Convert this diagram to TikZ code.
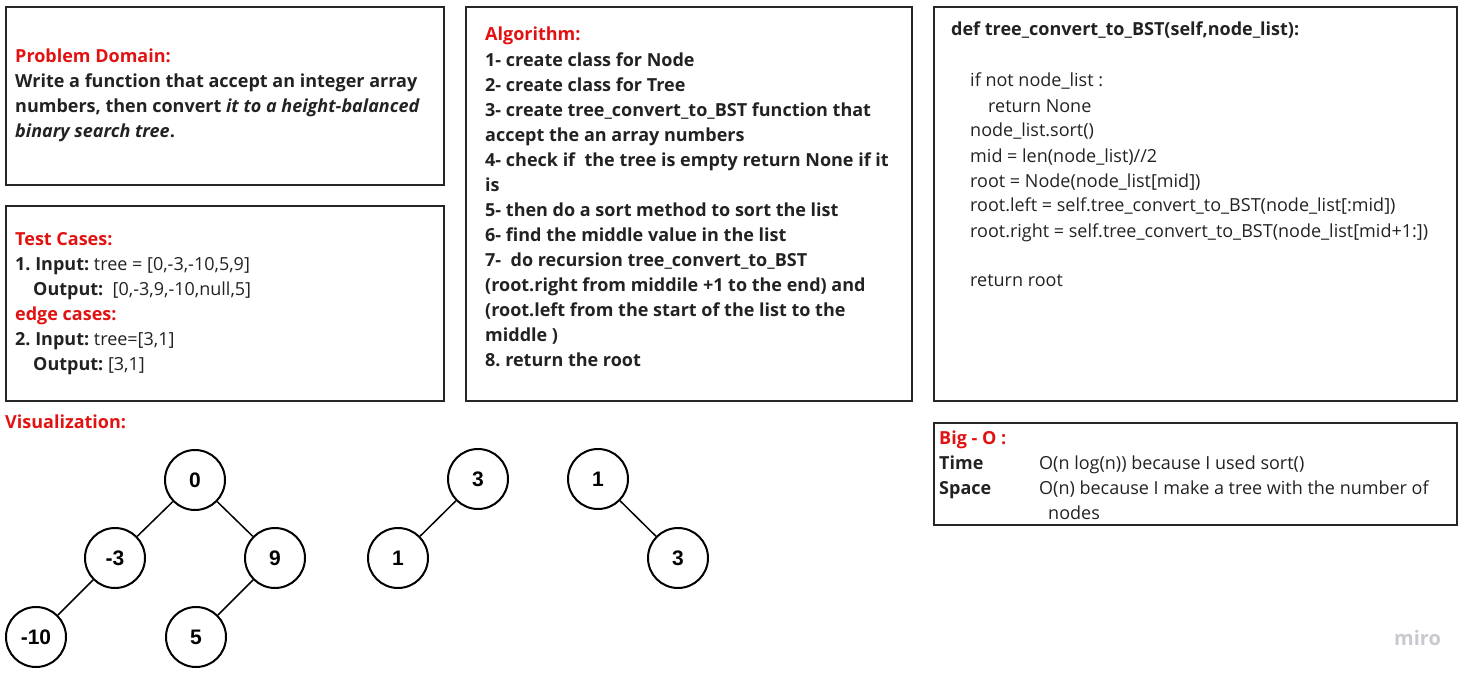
\documentclass[tikz,border=0pt]{standalone}
\usepackage{fontspec}
\setmainfont{Open Sans}
\newfontfamily\treefont{Liberation Sans}
\usepackage{xcolor}
\usetikzlibrary{positioning}
\definecolor{headred}{RGB}{226,18,18}
\definecolor{boxline}{RGB}{38,38,38}
\definecolor{bodytext}{RGB}{34,34,34}
\definecolor{logogrey}{RGB}{200,200,208}
\begin{document}
\begin{tikzpicture}[x=1pt,y=-1pt,
    box/.style={draw=boxline,line width=2pt},
    txt/.style={anchor=base west,inner sep=0pt,align=left,text=bodytext,
      font=\frenchspacing\fontsize{18}{25}\selectfont},
    boldtxt/.style={txt,font=\frenchspacing\bfseries\fontsize{18}{25}\selectfont},
    head/.style={txt,text=headred,font=\bfseries\fontsize{18}{25}\selectfont},
    treenode/.style={circle,draw=black,line width=2pt,minimum size=60pt,inner sep=0pt,
      font=\treefont\bfseries\fontsize{21}{21}\selectfont},
    treeedge/.style={line width=1.5pt}]
  \useasboundingbox (0,0) rectangle (1470,679);
  % boxes
  \draw [box] (6,7) rectangle (444,185);
  \draw [box] (6,206) rectangle (444,401);
  \draw [box] (466,7) rectangle (912,401);
  \draw [box] (934,7) rectangle (1457,401);
  \draw [box] (934,423) rectangle (1457,525);
  % problem domain (multi-line nodes sit on their last baseline)
  \node [head] (pdhead) at (15,63) {Problem Domain:};
  \node [boldtxt] (pdtext) at (15,138)
    {Write a function that accept an integer array\\
     numbers, then convert \textit{it to a height-balanced}\\
     \textit{binary search tree}.};
  % test cases
  \node [head] (tchead) at (15,245) {Test Cases:};
  \node [txt] (tctext) at (15,370)
    {\textbf{1.\ Input:} tree = [0,-3,-10,5,9]\\
     \hspace*{18pt}\textbf{Output:}\ \ [0,-3,9,-10,null,5]\\
     \textcolor{headred}{\textbf{edge cases:}}\\
     \textbf{2.\ Input:} tree=[3,1]\\
     \hspace*{18pt}\textbf{Output:} [3,1]};
  % algorithm
  \node [head] (alhead) at (485,41) {Algorithm:};
  \node [boldtxt] (altext) at (485,366)
    {1- create class for Node\\
     2- create class for Tree\\
     3- create tree\_convert\_to\_BST function that\\
     accept the an array numbers\\
     4- check if\ \ the tree is empty return None if it\\
     is\\
     5- then do a sort method to sort the list\\
     6- find the middle value in the list\\
     7-\ \ do recursion tree\_convert\_to\_BST\\
     (root.right from middile +1 to the end) and\\
     (root.left from the start of the list to the\\
     middle )\\
     8.\ return the root};
  % code
  \node [boldtxt] (codehead) at (951,36)
    {def tree\_convert\_to\_BST(self,node\_list):};
  \node [txt] (codebody) at (970,287)
    {if not node\_list :\\
     \hspace*{18pt}return None\\
     node\_list.sort()\\
     mid = len(node\_list)//2\\
     root = Node(node\_list[mid])\\
     root.left = self.tree\_convert\_to\_BST(node\_list[:mid])\\
     root.right = self.tree\_convert\_to\_BST(node\_list[mid+1:])\\
     \mbox{}\\
     return root};
  % big O
  \node [head] (bighead) at (939,444) {Big - O :};
  \node [boldtxt] (bigkeys) at (939,494) {Time\\ Space};
  \node [txt] (bigvals) at (1039,519)
    {O(n log(n)) because I used sort()\\
     O(n) because I make a tree with the number of\\
     \hspace*{9pt}nodes};
  % visualization
  \node [head] (vishead) at (5,428) {Visualization:};
  \node [treenode] (n0) at (195,480) {0};
  \node [treenode] (nm3) at (115,558) {-3};
  \node [treenode] (n9) at (275,558) {9};
  \node [treenode] (nm10) at (36,637) {-10};
  \node [treenode] (n5) at (196,637) {5};
  \draw [treeedge] (n0) -- (nm3);
  \draw [treeedge] (n0) -- (n9);
  \draw [treeedge] (nm3) -- (nm10);
  \draw [treeedge] (n9) -- (n5);
  \node [treenode] (ta3) at (478,479) {3};
  \node [treenode] (ta1) at (398,558) {1};
  \draw [treeedge] (ta3) -- (ta1);
  \node [treenode] (tb1) at (598,479) {1};
  \node [treenode] (tb3) at (678,558) {3};
  \draw [treeedge] (tb1) -- (tb3);
  % logo
  \node [txt,text=logogrey,font=\bfseries\fontsize{20}{20}\selectfont] (logo) at (1394,645) {miro};
\end{tikzpicture}
\end{document}
